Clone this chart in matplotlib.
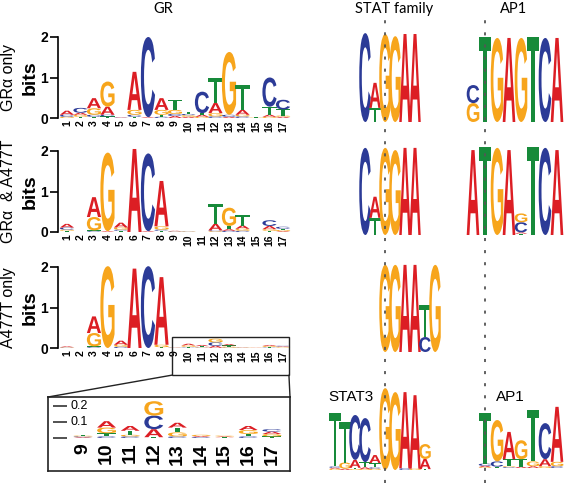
import matplotlib
matplotlib.use('Agg')
import matplotlib.pyplot as plt
from matplotlib.textpath import TextPath
from matplotlib.patches import PathPatch, Rectangle, ConnectionPatch
from matplotlib.font_manager import FontProperties
from matplotlib.transforms import Affine2D, blended_transform_factory

W, H = 567, 483

# ---- data: information content (bits) per letter, listed bottom -> top ----
gr_positions = list(range(1, 18))

gr_only = [
    {'G': .03, 'C': .05, 'A': .10},
    {'T': .03, 'G': .05, 'A': .05, 'C': .12},
    {'T': .03, 'C': .05, 'G': .16, 'A': .25},
    {'T': .04, 'C': .04, 'A': .20, 'G': .62},
    {'C': .01, 'A': .01},
    {'T': .03, 'C': .05, 'G': .12, 'A': .94},
    {'A': .02, 'C': 1.98},
    {'C': .03, 'T': .05, 'G': .12, 'A': .29},
    {'A': .05, 'C': .05, 'G': .10, 'T': .25},
    {'A': .03, 'G': .04, 'C': .03, 'T': .05},
    {'G': .03, 'A': .05, 'T': .04, 'C': .53},
    {'C': .04, 'G': .08, 'A': .25, 'T': .61},
    {'A': .03, 'C': .05, 'G': 1.55},
    {'C': .04, 'G': .04, 'A': .12, 'T': .62},
    {'G': .01, 'T': .01},
    {'G': .03, 'A': .05, 'T': .20, 'C': .72},
    {'A': .03, 'G': .03, 'T': .15, 'C': .24},
]

gr_both = [
    {'T': .03, 'G': .03, 'C': .05, 'A': .09},
    {},
    {'C': .02, 'T': .02, 'G': .33, 'A': .49},
    {'A': .02, 'G': 1.94},
    {'T': .03, 'C': .03, 'G': .05, 'A': .12},
    {'A': 2.05},
    {'A': .02, 'C': 1.92},
    {'T': .03, 'C': .03, 'G': .08, 'A': 1.12},
    {'G': .01, 'C': .01, 'A': .01},
    {'C': .01, 'G': .01, 'T': .01},
    {},
    {'G': .02, 'C': .02, 'A': .16, 'T': .49},
    {'C': .03, 'A': .04, 'T': .08, 'G': .45},
    {'C': .03, 'G': .05, 'A': .08, 'T': .25},
    {},
    {'T': .03, 'G': .04, 'A': .08, 'C': .14},
    {'A': .02, 'G': .03, 'T': .03, 'C': .05},
]

a477t_only = [
    {'C': .01, 'G': .01, 'A': .02},
    {},
    {'C': .02, 'T': .02, 'G': .33, 'A': .41},
    {'G': 2.02},
    {'C': .03, 'G': .05, 'A': .10},
    {'A': 1.96},
    {'C': 2.02},
    {'T': .02, 'G': .06, 'A': 1.67},
    {'A': .005, 'C': .005, 'G': .005, 'T': .005},
    {'C': .01, 'T': .02, 'G': .035, 'A': .04},
    {'C': .01, 'G': .01, 'T': .025, 'A': .03},
    {'T': .005, 'A': .05, 'C': .085, 'G': .09},
    {'C': .01, 'G': .025, 'T': .03, 'A': .03},
    {'C': .006, 'A': .006, 'G': .008},
    {'T': .005, 'A': .005, 'G': .005},
    {'C': .01, 'T': .015, 'G': .025, 'A': .025},
    {'T': .01, 'G': .015, 'A': .015, 'C': .015},
]

zoom_positions = list(range(9, 18))
zoom_ticks = [0, 0.1, 0.2]
zoom_tick_labels = ['', '0.1', '0.2']

# STAT family motifs (column grid: dashed line at position 3)
stat_anchor = 3
stat_row1_pos = [1, 2, 3, 4, 5, 6]
stat_row1 = [{'C': 2.02}, {'T': .32, 'A': .57}, {'G': 2.0},
             {'G': 1.95}, {'A': 2.0}, {'A': 2.0}]
stat_row2_pos = [1, 2, 3, 4, 5, 6]
stat_row2 = [{'C': 1.98}, {'T': .39, 'A': .48}, {'G': 1.98},
             {'G': 1.93}, {'A': 1.98}, {'A': 1.98}]
stat_row3_pos = [3, 4, 5, 6, 7, 8]
stat_row3 = [{'G': 1.98}, {'G': 1.98}, {'A': 1.98}, {'A': 1.98},
             {'C': .34, 'T': .73}, {'G': 1.98}]
stat3_pos = [-2, -1, 0, 1, 2, 3, 4, 5, 6, 7]
stat3 = [
    {'G': .03, 'A': .02, 'C': .03, 'T': 1.22},
    {'A': .03, 'G': .14, 'T': .92},
    {'G': .02, 'T': .03, 'A': .18, 'C': 1.02},
    {'G': .02, 'A': .04, 'T': .12, 'C': 1.0},
    {'G': .03, 'C': .03, 'T': .10, 'A': .18},
    {'G': 1.86},
    {'G': 1.77},
    {'C': .04, 'A': 1.73},
    {'G': .03, 'A': 1.67},
    {'T': .02, 'A': .23, 'G': .34},
]

# AP1 motifs (column grid: dashed line at position 2)
ap1_anchor = 2
ap1_row1_pos = [1, 2, 3, 4, 5, 6, 7, 8]
ap1_row1 = [{'G': .43, 'C': .41}, {'T': 1.93}, {'G': 1.91}, {'A': 1.91},
            {'G': 1.91}, {'T': 1.93}, {'C': 1.91}, {'A': 1.91}]
ap1_row2_pos = [1, 2, 3, 4, 5, 6, 7, 8]
ap1_row2 = [{'A': 1.93}, {'T': 2.0}, {'G': 1.98}, {'A': 1.93},
            {'T': .03, 'A': .03, 'C': .23, 'G': .20},
            {'T': 2.0}, {'C': 1.98}, {'A': 1.93}]
ap1_ref_pos = [2, 3, 4, 5, 6, 7, 8]
ap1_ref = [
    {'G': .02, 'A': .03, 'C': .05, 'T': 1.15},
    {'T': .03, 'C': .12, 'G': .94},
    {'C': .02, 'G': .02, 'T': .16, 'A': .62},
    {'A': .03, 'T': .17, 'G': .43},
    {'A': .04, 'G': .11, 'T': 1.17},
    {'G': .04, 'A': .16, 'C': .82},
    {'C': .04, 'G': .10, 'A': 1.25},
]

COLORS = {'A': '#dc1e24', 'C': '#2c3b97', 'G': '#f7a51c', 'T': '#178a3a'}
LOGO_FONT = FontProperties(family='Liberation Sans', weight='bold')
_glyphs = {}


def letter(ax, ch, x, y0, w, h):
    if h <= 0:
        return
    if ch not in _glyphs:
        _glyphs[ch] = TextPath((0, 0), ch, size=1, prop=LOGO_FONT)
    p = _glyphs[ch]
    bb = p.get_extents()
    t = (Affine2D().translate(-bb.x0, -bb.y0)
         .scale(w / bb.width, h / bb.height)
         .translate(x - w / 2, y0))
    ax.add_patch(PathPatch(t.transform_path(p), fc=COLORS[ch], lw=0,
                           clip_on=False, zorder=2))


def logo(ax, positions, columns, base=0.0, width=1.0):
    for pos, col in zip(positions, columns):
        y = base
        for ch, h in col.items():
            letter(ax, ch, pos, y, width, h)
            y += h


def px_rect(l, t, r, b):
    return [l / W, 1 - b / H, (r - l) / W, (b - t) / H]


fig = plt.figure(figsize=(W / 100, H / 100), dpi=100)
plt.rcParams['font.family'] = ['Liberation Sans', 'DejaVu Sans']

# ---- GR logos ----
gr_rows = [(gr_only, 37, 118, 'GRα only'),
           (gr_both, 151, 232, 'GRα  & A477T'),
           (a477t_only, 267, 348, 'A477T only')]
gr_axes = []
for data, top, bottom, name in gr_rows:
    ax = fig.add_axes(px_rect(57.5, top, 289.75, bottom))
    ax.patch.set_visible(False)
    ax.set_xlim(0.3, 17.5)
    ax.set_ylim(0, 2)
    for s in ('top', 'right', 'bottom'):
        ax.spines[s].set_visible(False)
    ax.spines['left'].set_linewidth(1.2)
    ax.set_yticks([0, 1, 2])
    ax.set_yticklabels(['0', '1', '2'], fontsize=10, fontweight='bold')
    ax.tick_params(axis='y', length=6, width=1.2, pad=1)
    ax.set_xticks(gr_positions)
    ax.set_xticklabels([str(p) for p in gr_positions], rotation=90,
                       fontsize=7.5, fontweight='bold')
    ax.tick_params(axis='x', length=0, pad=1.5)
    ax.set_ylabel('bits', fontsize=14, fontweight='bold', labelpad=1)
    logo(ax, gr_positions, data, width=1.05)
    fig.text(9 / W, 1 - (top + bottom) / 2 / H, name, rotation=90,
             ha='center', va='center', fontsize=11.5)
    gr_axes.append(ax)

# zoom box on the third logo, positions 9-17
ax3 = gr_axes[2]
zx0, zx1, zy0, zy1 = 8.78, 17.44, -0.67, 0.27
ax3.add_patch(Rectangle((zx0, zy0), zx1 - zx0, zy1 - zy0, fill=False,
                        lw=1.0, ec='#222222', clip_on=False, zorder=5))

axz = fig.add_axes(px_rect(48, 397, 290, 471))
axz.patch.set_visible(False)
axz.set_xlim(7.52, 17.77)
axz.set_ylim(-0.206, 0.256)
axz.set_xticks([])
axz.set_yticks([])
for s in axz.spines.values():
    s.set_linewidth(1.2)
    s.set_color('#222222')
logo(axz, zoom_positions, a477t_only[8:], width=0.8)
bt = blended_transform_factory(axz.transAxes, axz.transData)
axz.hlines(zoom_ticks, 0.021, 0.0785, transform=bt, color='#222222', lw=1.1)
for v, lab in zip(zoom_ticks, zoom_tick_labels):
    axz.text(0.091, v, lab, transform=bt, ha='left', va='center', fontsize=9)
for p in zoom_positions:
    axz.text(p, -0.03, str(p), rotation=90, ha='center', va='top',
             fontsize=14, fontweight='bold')

for xa, xb in ((zx0, 0), (zx1, 1)):
    fig.add_artist(ConnectionPatch(xyA=(xa, zy0), coordsA=ax3.transData,
                                   xyB=(xb, 1), coordsB=axz.transAxes,
                                   lw=1.0, color='#222222'))

# ---- STAT / AP1 columns ----
PX_PER_BIT = 44.0


def column_axes(left, right, first_px, step):
    ax = fig.add_axes(px_rect(left, 0, right, H))
    ax.set_xlim(1 + (left - first_px) / step, 1 + (right - first_px) / step)
    ax.set_ylim(0, H / PX_PER_BIT)
    ax.axis('off')
    return ax


def base(px):
    return (H - px) / PX_PER_BIT


axs = column_axes(320, 445, 365, 10)
axs.axvline(stat_anchor, ymin=0, ymax=(H - 17) / H, color='#555555',
            lw=1.3, dashes=(1.7, 5), zorder=3)
logo(axs, stat_row1_pos, stat_row1, base(122), width=1.15)
logo(axs, stat_row2_pos, stat_row2, base(235), width=1.15)
logo(axs, stat_row3_pos, stat_row3, base(352), width=1.15)
logo(axs, stat3_pos, stat3, base(470), width=1.15)

axa = column_axes(460, 567, 473, 12)
axa.axvline(ap1_anchor, ymin=0, ymax=(H - 17) / H, color='#555555',
            lw=1.3, dashes=(1.7, 5), zorder=3)
logo(axa, ap1_row1_pos, ap1_row1, base(122), width=1.05)
logo(axa, ap1_row2_pos, ap1_row2, base(235), width=1.05)
logo(axa, ap1_ref_pos, ap1_ref, base(468), width=1.05)

fig.text(351 / W, 1 - 397 / H, 'STAT3', ha='center', va='center', fontsize=11)
fig.text(510 / W, 1 - 397 / H, 'AP1', ha='center', va='center', fontsize=11)

# ---- column titles ----
for label, xc in (('GR', 163), ('STAT family', 394), ('AP1', 514)):
    fig.text(xc / W, 1 - 9 / H, label, ha='center', va='center',
             fontsize=10.5, family=['Lato', 'DejaVu Sans'])

fig.savefig('out.png', dpi=100)
